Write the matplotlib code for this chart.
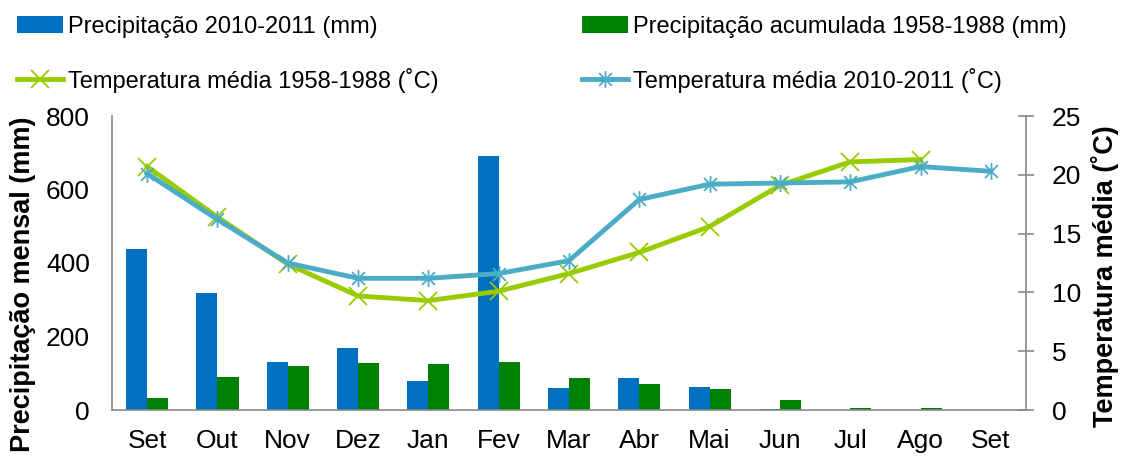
import numpy as np
import matplotlib as mpl
mpl.use('Agg')
import matplotlib.pyplot as plt
from matplotlib.path import Path

plt.rcParams['font.family'] = ['Liberation Sans', 'DejaVu Sans']

months = ['Set', 'Out', 'Nov', 'Dez', 'Jan', 'Fev', 'Mar', 'Abr', 'Mai', 'Jun', 'Jul', 'Ago', 'Set']
prec_2010 = [437, 319, 130, 170, 80, 690, 59, 88, 63, 2, 0, 0, 0]
prec_hist = [33, 90, 120, 127, 124, 130, 88, 72, 57, 27, 5, 5, 0]
temp_hist = [20.7, 16.4, 12.4, 9.7, 9.3, 10.1, 11.6, 13.4, 15.6, 19.1, 21.1, 21.3, np.nan]
temp_2010 = [20.1, 16.2, 12.5, 11.2, 11.2, 11.6, 12.7, 17.9, 19.2, 19.3, 19.4, 20.7, 20.3]

# excel-like asterisk: x plus a vertical bar
star = Path([(-1, -1), (1, 1), (-1, 1), (1, -1), (0, -1.3), (0, 1.3)],
            [Path.MOVETO, Path.LINETO, Path.MOVETO, Path.LINETO, Path.MOVETO, Path.LINETO])

grey = '#898989'
fs_tick = 19
fs_leg = 17
fs_lab = 19.5

fig = plt.figure(figsize=(11.37, 4.57), dpi=100)
ax = fig.add_axes([112/1137, 1 - 410/457, 914/1137, 294/457])
x = np.arange(len(months))
w = 0.3
ax.bar(x - w/2, prec_2010, w, color='#0070C0', label='Precipitação 2010-2011 (mm)')
ax.bar(x + w/2, prec_hist, w, color='#008000', label='Precipitação acumulada 1958-1988 (mm)')
ax.set_xlim(-0.5, len(months) - 0.5)
ax.set_ylim(0, 800)
ax.set_yticks([0, 200, 400, 600, 800])
ax.set_xticks(x)
ax.set_xticklabels(months)
ax.tick_params(axis='x', length=0, pad=14, labelsize=fs_tick)
ax.tick_params(axis='y', length=0, pad=16, labelsize=fs_tick)
for s in ['top', 'right']:
    ax.spines[s].set_visible(False)
for s in ['left', 'bottom']:
    ax.spines[s].set_color(grey)
    ax.spines[s].set_linewidth(1.2)
ax.set_ylabel('Precipitação mensal (mm)', fontsize=fs_lab, fontweight='bold')
ax.yaxis.set_label_coords(-0.083, 0.429)

ax2 = ax.twinx()
ax2.plot(x, temp_hist, color='#99CC00', lw=3.5, marker='x', ms=13, mew=1.3,
         label='Temperatura média 1958-1988 (˚C)')
ax2.plot(x, temp_2010, color='#4BACC6', lw=3.5, marker=star, ms=12, mew=1.3,
         mfc='none', label='Temperatura média 2010-2011 (˚C)')
ax2.set_ylim(0, 25)
ax2.set_yticks([0, 5, 10, 15, 20, 25])
ax2.tick_params(axis='y', direction='inout', length=11.5, width=1.2, color=grey,
                pad=13, labelsize=fs_tick)
for s in ['top', 'left', 'bottom']:
    ax2.spines[s].set_visible(False)
ax2.spines['right'].set_color(grey)
ax2.spines['right'].set_linewidth(1.2)
ax2.set_ylabel('Temperatura média (˚C)', fontsize=fs_lab, fontweight='bold')
ax2.yaxis.set_label_coords(1.071, 0.456)

h1, l1 = ax.get_legend_handles_labels()
h2, l2 = ax2.get_legend_handles_labels()
handles = [h1[0], h2[0], h1[1], h2[1]]
labels = [l1[0], l2[0], l1[1], l2[1]]
fig.legend(handles, labels, loc='upper left', bbox_to_anchor=(17/1137, 1 - 16/457),
           ncol=2, frameon=False, fontsize=fs_leg, borderpad=0, borderaxespad=0,
           handlelength=1.95, handletextpad=0.2, labelspacing=1.26, columnspacing=6.1)

fig.savefig('out.png', dpi=100)
